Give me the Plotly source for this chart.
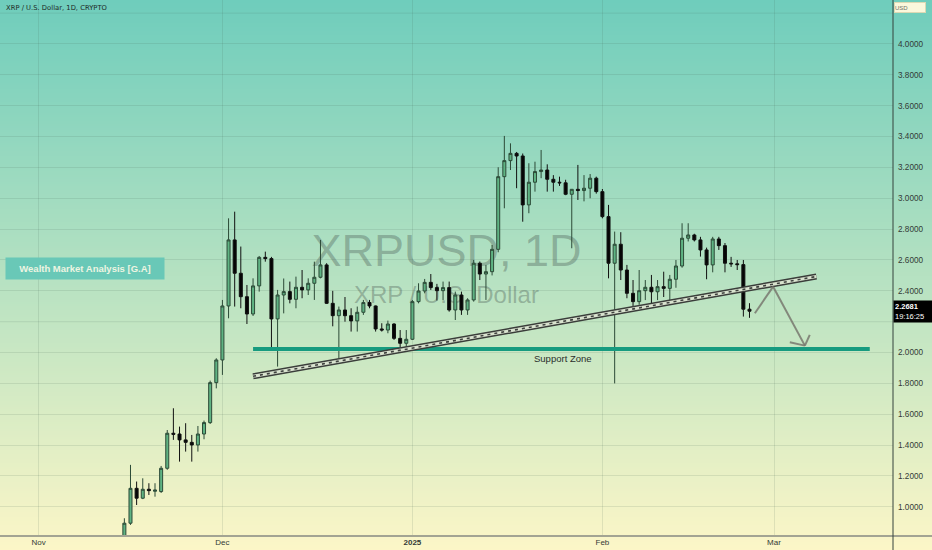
import zlib, struct, base64
import pandas as pd
import plotly.graph_objects as go

# ---------------- data (daily XRP/USD) ----------------
start_date = "2024-11-15"
opens = [0.78, 0.894, 1.120, 1.056, 1.114, 1.101, 1.099, 1.250, 1.477, 1.472, 1.434, 1.418, 1.401, 1.472, 1.546, 1.805,
         1.952, 2.302, 2.730, 2.514, 2.362, 2.250, 2.432, 2.617, 2.609, 2.218, 2.373, 2.395, 2.345, 2.423, 2.406, 2.449,
         2.488, 2.568, 2.319, 2.239, 2.276, 2.239, 2.205, 2.261, 2.324, 2.302, 2.153, 2.146, 2.185, 2.092, 2.060,
         2.086, 2.330, 2.399, 2.455, 2.421, 2.401, 2.421, 2.276, 2.373, 2.276, 2.341, 2.579, 2.509, 2.524, 2.669, 3.140,
         3.244, 3.291, 3.274, 2.957, 3.104, 3.173, 3.183, 3.123, 3.104, 3.100, 3.026, 3.058, 3.050, 3.065, 3.130,
         3.043, 2.881, 2.579, 2.702, 2.535, 2.384, 2.330, 2.401, 2.423, 2.394, 2.427, 2.416, 2.475, 2.561, 2.741, 2.762,
         2.730, 2.665, 2.568, 2.736, 2.693, 2.579, 2.575, 2.570, 2.281]
highs = [0.926, 1.272, 1.164, 1.185, 1.153, 1.153, 1.265, 1.498, 1.639, 1.520, 1.542, 1.466, 1.524, 1.559, 1.818, 1.963,
         2.341, 2.870, 2.913, 2.687, 2.438, 2.481, 2.626, 2.654, 2.620, 2.406, 2.480, 2.460, 2.492, 2.535, 2.481, 2.589,
         2.730, 2.579, 2.400, 2.298, 2.360, 2.287, 2.298, 2.341, 2.341, 2.305, 2.190, 2.207, 2.190, 2.146, 2.146,
         2.341, 2.449, 2.477, 2.509, 2.445, 2.460, 2.460, 2.395, 2.395, 2.352, 2.600, 2.590, 2.568, 2.697, 3.201, 3.404,
         3.356, 3.300, 3.290, 3.227, 3.237, 3.313, 3.220, 3.150, 3.140, 3.120, 3.060, 3.216, 3.150, 3.157, 3.140,
         3.060, 2.957, 2.784, 2.780, 2.568, 2.470, 2.535, 2.470, 2.503, 2.470, 2.524, 2.503, 2.600, 2.838, 2.838, 2.770,
         2.750, 2.680, 2.750, 2.750, 2.710, 2.620, 2.600, 2.600, 2.320]
lows = [0.770, 0.883, 1.012, 1.050, 1.077, 1.066, 1.090, 1.240, 1.434, 1.293, 1.358, 1.293, 1.358, 1.438, 1.537, 1.768,
        1.855, 2.222, 2.298, 2.287, 2.185, 2.237, 2.395, 2.589, 2.017, 1.909, 2.254, 2.319, 2.287, 2.352, 2.373, 2.341,
        2.481, 2.315, 2.170, 1.963, 2.200, 2.136, 2.136, 2.244, 2.287, 2.136, 2.136, 2.125, 2.082, 2.006, 2.017,
        2.082, 2.319, 2.384, 2.406, 2.337, 2.340, 2.265, 2.211, 2.244, 2.244, 2.330, 2.470, 2.341, 2.500, 2.650, 2.935,
        3.183, 3.065, 2.848, 2.903, 3.043, 3.130, 3.043, 3.043, 3.080, 3.020, 2.676, 2.989, 2.980, 3.000, 3.030,
        2.870, 2.481, 1.800, 2.470, 2.352, 2.298, 2.310, 2.340, 2.319, 2.340, 2.360, 2.340, 2.420, 2.550, 2.720, 2.720,
        2.622, 2.475, 2.520, 2.665, 2.520, 2.555, 2.535, 2.233, 2.225]
closes = [0.894, 1.120, 1.056, 1.114, 1.105, 1.109, 1.250, 1.477, 1.470, 1.434, 1.418, 1.401, 1.472, 1.546, 1.805, 1.952,
          2.302, 2.730, 2.514, 2.362, 2.250, 2.432, 2.617, 2.609, 2.218, 2.373, 2.395, 2.345, 2.423, 2.406, 2.449, 2.488,
          2.568, 2.319, 2.239, 2.276, 2.239, 2.205, 2.261, 2.324, 2.302, 2.153, 2.146, 2.185, 2.092, 2.060, 2.086,
          2.330, 2.399, 2.455, 2.421, 2.401, 2.421, 2.276, 2.373, 2.276, 2.341, 2.579, 2.509, 2.524, 2.669, 3.140, 3.244,
          3.291, 3.274, 2.957, 3.104, 3.173, 3.183, 3.123, 3.104, 3.100, 3.026, 3.058, 3.050, 3.065, 3.130, 3.043,
          2.881, 2.579, 2.702, 2.535, 2.384, 2.330, 2.401, 2.423, 2.394, 2.427, 2.416, 2.475, 2.561, 2.741, 2.762, 2.730,
          2.665, 2.568, 2.736, 2.693, 2.579, 2.575, 2.570, 2.281, 2.2681]
dates = pd.date_range(start_date, periods=len(opens), freq="D")

last_price = 2.2681
last_time = "19:16:25"
month_ticks = ["2024-11-01", "2024-12-01", "2025-01-01", "2025-02-01", "2025-03-01"]
month_labels = ["Nov", "Dec", "<b>2025</b>", "Feb", "Mar"]
price_ticks = [1.0, 1.2, 1.4, 1.6, 1.8, 2.0, 2.4, 2.6, 2.8, 3.0, 3.2, 3.4, 3.6, 3.8, 4.0]
hidden_grid = [2.2, 4.2]   # grid levels whose labels sit under overlays

# ---------------- background gradient image ----------------
def gradient_png(h, top, bot):
    raw = b""
    for i in range(h):
        t = i / (h - 1)
        c = bytes(int(round(top[k] + (bot[k] - top[k]) * t)) for k in range(3))
        raw += b"\x00" + c + c
    def chunk(tag, data):
        return (struct.pack(">I", len(data)) + tag + data +
                struct.pack(">I", zlib.crc32(tag + data) & 0xffffffff))
    ihdr = struct.pack(">IIBBBBB", 2, h, 8, 2, 0, 0, 0)
    png = (b"\x89PNG\r\n\x1a\n" + chunk(b"IHDR", ihdr) +
           chunk(b"IDAT", zlib.compress(raw)) + chunk(b"IEND", b""))
    return "data:image/png;base64," + base64.b64encode(png).decode()

bg_src = gradient_png(256, (111, 205, 188), (252, 246, 199))

W, H = 932, 550
ML, MR, MT, MB = 0, 39, 0, 14
PW, PH = W - ML - MR, H - MT - MB
GRID = "rgba(60,90,80,0.13)"

fig = go.Figure()
fig.add_trace(go.Candlestick(
    x=dates, open=opens, high=highs, low=lows, close=closes,
    increasing=dict(line=dict(color="#2c4a37", width=1), fillcolor="#5fb383"),
    decreasing=dict(line=dict(color="#111111", width=1), fillcolor="#050505"),
    whiskerwidth=0, hoverinfo="skip", showlegend=False,
))

shapes = []
for g in hidden_grid:
    shapes.append(dict(type="line", xref="paper", yref="y", x0=0, x1=1, y0=g, y1=g,
                       line=dict(color=GRID, width=1), layer="below"))
# watermark (below the candles)
shapes.append(dict(type="rect", xref="paper", yref="paper", x0=0, x1=1, y0=0.49, y1=0.59,
                   line=dict(width=0), fillcolor="rgba(0,0,0,0)", layer="below",
                   label=dict(text="XRPUSD, 1D", textposition="middle center",
                              font=dict(size=45, color="rgba(70,85,80,0.36)", family="Liberation Sans"))))
shapes.append(dict(type="rect", xref="paper", yref="paper", x0=0, x1=1, y0=0.425, y1=0.485,
                   line=dict(width=0), fillcolor="rgba(0,0,0,0)", layer="below",
                   label=dict(text="XRP / U.S. Dollar", textposition="middle center",
                              font=dict(size=24, color="rgba(70,85,80,0.36)", family="Liberation Sans"))))
# support zone line
shapes.append(dict(type="line", xref="x", yref="y", x0="2024-12-06", x1="2025-03-16T15:00",
                   y0=2.023, y1=2.023, line=dict(color="#179b7f", width=4)))
# rising trend line (double rail)
tl = dict(type="line", xref="x", yref="y", x0="2024-12-06", x1="2025-03-07T22:00", y0=1.846, y1=2.493)
shapes.append({**tl, "line": dict(color="#3a3d3a", width=6)})
shapes.append({**tl, "line": dict(color="#d9e3cf", width=3)})
shapes.append({**tl, "line": dict(color="#3f423f", width=1.6, dash="3px,4px")})
# projected move arrow
arrow_col = "rgba(120,120,110,0.85)"
for (xa, ya, xb, yb) in [("2025-02-25T21:00", 2.255, "2025-02-28T20:40", 2.427),
                         ("2025-02-28T20:40", 2.427, "2025-03-06T01:00", 2.045),
                         ("2025-03-06T01:00", 2.045, "2025-03-03T14:00", 2.067),
                         ("2025-03-06T01:00", 2.045, "2025-03-06T20:00", 2.114)]:
    shapes.append(dict(type="line", xref="x", yref="y", x0=xa, y0=ya, x1=xb, y1=yb,
                       line=dict(color=arrow_col, width=2)))
# axis lines
shapes.append(dict(type="line", xref="paper", yref="paper", x0=0, x1=W / PW, y0=0, y1=0,
                   line=dict(color="#a3a493", width=2)))
shapes.append(dict(type="line", xref="paper", yref="paper", x0=1, x1=1, y0=-MB / PH, y1=1,
                   line=dict(color="#34433d", width=1)))

annotations = [
    dict(xref="paper", yref="paper", x=4 / PW, y=1 - 2 / PH, xanchor="left", yanchor="top",
         text="XRP / U.S. Dollar, 1D, CRYPTO", showarrow=False,
         font=dict(size=6.8, color="#1e2a26", family="DejaVu Sans")),
    dict(xref="paper", yref="paper", x=5 / PW, y=1 - 257 / PH, xanchor="left", yanchor="top",
         text="<b>Wealth Market Analysis [G.A]</b>", showarrow=False, width=154, height=17,
         bgcolor="#69c8b7", borderpad=2, align="center",
         font=dict(size=9.5, color="#eef5e2", family="Liberation Sans")),
    dict(xref="x", yref="y", x="2025-01-25T14:00", y=1.962, text="Support Zone", showarrow=False,
         font=dict(size=9.5, color="#2a2f2c", family="Liberation Sans")),
    dict(xref="paper", yref="y", x=1, y=last_price, xanchor="left", yanchor="middle",
         text=f"<b>{last_price:.4f}</b><br>{last_time}", showarrow=False, align="left",
         bgcolor="#000000", borderpad=1, width=37,
         font=dict(size=7.5, color="#ffffff", family="Liberation Sans")),
    dict(xref="paper", yref="paper", x=1, y=1, xanchor="left", yanchor="top", xshift=1, yshift=-2,
         text="USD", showarrow=False, align="left", width=30, height=9,
         bgcolor="#fbf8dc", bordercolor="#dcd9b4", borderwidth=1, borderpad=0,
         font=dict(size=6, color="#707068", family="Liberation Sans")),
]

fig.update_layout(
    width=W, height=H,
    margin=dict(l=ML, r=MR, t=MT, b=MB, pad=0),
    paper_bgcolor="rgba(0,0,0,0)", plot_bgcolor="rgba(0,0,0,0)",
    font=dict(family="Liberation Sans", color="#2e3531"),
    showlegend=False, hovermode=False, dragmode=False,
    images=[dict(source=bg_src, xref="paper", yref="paper", x=0, y=1, xanchor="left", yanchor="top",
                 sizex=W / PW, sizey=H / PH, sizing="stretch", layer="below")],
    shapes=shapes, annotations=annotations,
    xaxis=dict(type="date", range=["2024-10-25T17:00", "2025-03-20T10:00"],
               rangeslider=dict(visible=False),
               tickvals=month_ticks, ticktext=month_labels, ticks="",
               tickfont=dict(size=8, color="#333a36"),
               showgrid=True, gridcolor=GRID, gridwidth=1,
               showline=False, zeroline=False, fixedrange=True),
    yaxis=dict(side="right", range=[0.811, 4.285], tickvals=price_ticks, tickformat=".4f",
               ticks="", ticklabelstandoff=4, tickfont=dict(size=8.2, color="#333a36"),
               showgrid=True, gridcolor=GRID, gridwidth=1,
               showline=False, zeroline=False, fixedrange=True),
)

fig.write_html("out.html", config={"displayModeBar": False, "staticPlot": True},
               post_script="document.body.style.margin='0';document.body.style.overflow='hidden';")
